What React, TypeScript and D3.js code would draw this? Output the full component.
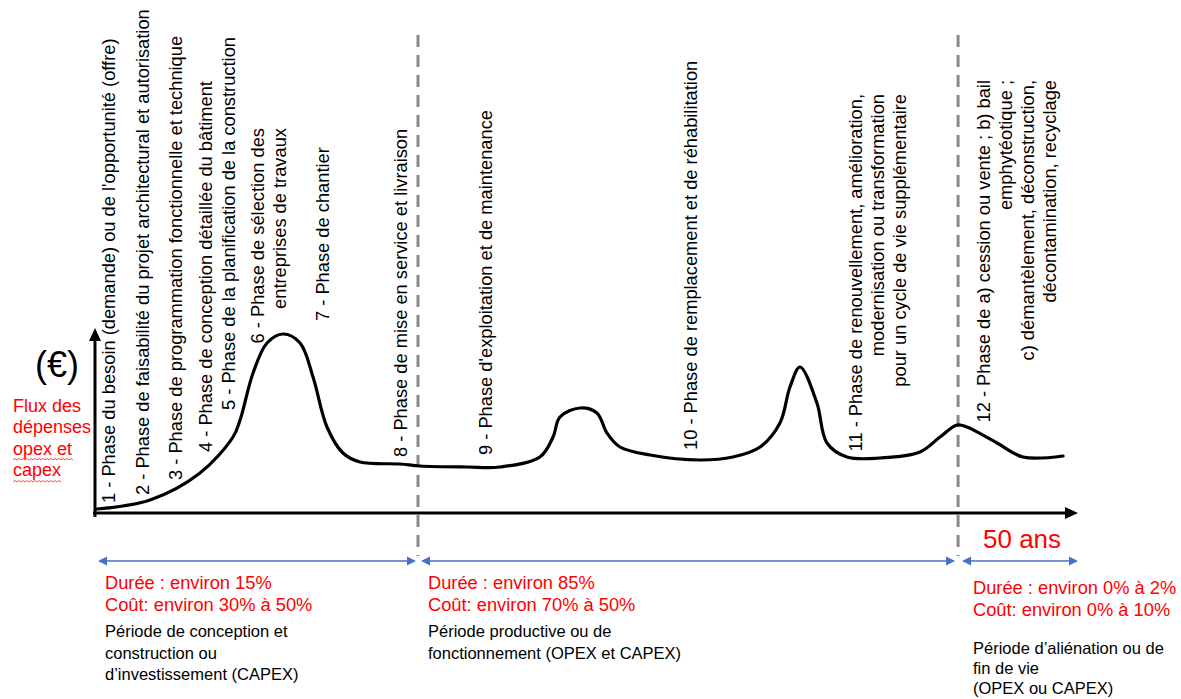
import React from "react";
import * as d3 from "d3";

// ---- data ----
const years = [0.1, 2.8, 5.34, 7.02, 7.38, 8.04, 8.75, 9.56, 10.43, 11.09, 11.8, 12.61, 13.48, 15.51, 16.53, 18.92, 20.6, 22.63, 23.3, 23.65, 24.67, 25.53, 26.04, 26.7, 28.23, 30.77, 32.45, 33.83, 34.84, 35.35, 35.86, 36.72, 37.23, 38.25, 39.93, 41.96, 42.98, 43.85, 44.35, 45.88, 47.2, 49.24];
const spending = [0.15, 0.6, 1.95, 3.75, 4.6, 6.95, 8.45, 8.9, 8.45, 6.75, 4.25, 2.95, 2.5, 2.4, 2.3, 2.25, 2.25, 2.75, 3.75, 4.75, 5.2, 4.95, 3.95, 3.25, 2.85, 2.6, 2.75, 3.25, 4.45, 6.25, 7.25, 5.45, 3.45, 2.75, 2.7, 3.0, 3.75, 4.35, 4.25, 3.45, 2.75, 2.8];
const periodBounds = [0, 16.43, 43.9, 50];
const horizonLabel = "50 ans";
const yUnitLabel = "(€)";
const yTitle = ["Flux des", "dépenses", "opex et", "capex"];

const phaseLabels = [
  ["1 - Phase du besoin (demande) ou de l'opportunité (offre)"],
  ["2 - Phase de faisabilité du projet architectural et autorisation"],
  ["3 - Phase de programmation fonctionnelle et technique"],
  ["4 - Phase de conception détaillée du bâtiment"],
  ["5 - Phase de la planification de la construction"],
  ["6 - Phase de sélection des", "entreprises de travaux"],
  ["7 - Phase de chantier"],
  ["8 - Phase de mise en service et livraison"],
  ["9 - Phase d'exploitation et de maintenance"],
  ["10 - Phase de remplacement et de réhabilitation"],
  ["11 - Phase de renouvellement, amélioration,", "modernisation ou transformation", "pour un cycle de vie supplémentaire"],
  ["12 - Phase de a) cession ou vente ; b) bail", "emphytéotique ;", "c) démantèlement, déconstruction,", "décontamination, recyclage"],
];

const periodRed = [
  ["Durée : environ 15%", "Coût: environ 30% à 50%"],
  ["Durée : environ 85%", "Coût: environ 70% à 50%"],
  ["Durée : environ 0% à 2%", "Coût: environ 0% à 10%"],
];
const periodBlack = [
  ["Période de conception et", "construction ou", "d’investissement (CAPEX)"],
  ["Période productive ou de", "fonctionnement (OPEX et CAPEX)"],
  ["Période d’aliénation ou de", "fin de vie", "(OPEX ou CAPEX)"],
];

// ---- layout (positions, not data) ----
const labelLayout = [
  { x: 115, y: 503, anchor: "start" },
  { x: 149, y: 495, anchor: "start" },
  { x: 182, y: 480, anchor: "start" },
  { x: 212, y: 452, anchor: "start" },
  { x: 235, y: 410, anchor: "start" },
  { x: 264, y: 128, anchor: "end" },
  { x: 329, y: 321, anchor: "start" },
  { x: 407, y: 457, anchor: "start" },
  { x: 492, y: 455, anchor: "start" },
  { x: 697, y: 450, anchor: "start" },
  { x: 862, y: 94, anchor: "end" },
  { x: 990, y: 80, anchor: "end" },
];
const blockLayout = [
  { x: 105, red: 589, black: 637, gap: 21.5 },
  { x: 428, red: 589, black: 637, gap: 21.5 },
  { x: 973, red: 594, black: 654, gap: 20 },
];

const FONT = "'Liberation Sans', Arial, Helvetica, sans-serif";
const RED = "#ff0000";
const BLUE = "#4472c4";

export default function App() {
  const W = 1181, H = 699;
  const x = d3.scaleLinear().domain([0, 50]).range([95, 1078]);
  const y = d3.scaleLinear().domain([0, 10]).range([512, 312]);
  const pts: [number, number][] = years.map((t, i) => [t, spending[i]]);
  const line = d3.line<[number, number]>().x(d => x(d[0])).y(d => y(d[1])).curve(d3.curveCatmullRom.alpha(0.5));

  const axisY = 513;
  const x0 = x(0);
  const xEnd = x(50);
  const yTop = 328;
  const arrowY = 561;

  const wavy = (x1: number, x2: number, yy: number) => {
    let p = `M${x1},${yy}`;
    let up = true;
    for (let xx = x1 + 2; xx <= x2; xx += 2) {
      p += ` L${xx},${yy + (up ? -1.5 : 0)}`;
      up = !up;
    }
    return p;
  };

  const blueArrow = (a: number, b: number, key: string) => {
    const hl = 9, hw = 4.5;
    return (
      <g key={key}>
        <line x1={a + hl - 1} x2={b - hl + 1} y1={arrowY} y2={arrowY} stroke={BLUE} strokeWidth={1.5} />
        <polygon points={`${a},${arrowY} ${a + hl},${arrowY - hw} ${a + hl},${arrowY + hw}`} fill={BLUE} />
        <polygon points={`${b},${arrowY} ${b - hl},${arrowY - hw} ${b - hl},${arrowY + hw}`} fill={BLUE} />
      </g>
    );
  };

  const bounds = periodBounds.map(v => x(v));

  return (
    <svg width={W} height={H} viewBox={`0 0 ${W} ${H}`} style={{ position: "fixed", left: 0, top: 0, background: "#fff" }} fontFamily={FONT}>
      <rect width={W} height={H} fill="#fff" />
      {/* period dividers */}
      {periodBounds.slice(1, 3).map((b, i) => (
        <line key={i} x1={x(b)} x2={x(b)} y1={35} y2={556} stroke="#8a8a8a" strokeWidth={3} strokeDasharray="12 8" />
      ))}
      {/* axes */}
      <line x1={x0} x2={x0} y1={axisY + 4} y2={yTop + 10} stroke="#000" strokeWidth={3} />
      <polygon points={`${x0},${yTop} ${x0 - 6},${yTop + 13} ${x0 + 6},${yTop + 13}`} fill="#000" />
      <line x1={x0 - 2} x2={xEnd - 10} y1={axisY} y2={axisY} stroke="#000" strokeWidth={3} />
      <polygon points={`${xEnd},${axisY} ${xEnd - 13},${axisY - 6} ${xEnd - 13},${axisY + 6}`} fill="#000" />
      {/* curve */}
      <path d={line(pts) || ""} fill="none" stroke="#000" strokeWidth={3.2} strokeLinejoin="round" strokeLinecap="round" />
      {/* rotated phase labels */}
      {phaseLabels.map((lines, i) => {
        const L = labelLayout[i];
        return lines.map((t, j) => (
          <text key={`${i}-${j}`} transform={`translate(${L.x + j * 22},${L.y}) rotate(-90)`} textAnchor={L.anchor} fontSize={18.3} fill="#000">
            {t}
          </text>
        ));
      })}
      {/* y axis labels */}
      <text x={35} y={377} fontSize={36} fill="#000">{yUnitLabel}</text>
      {yTitle.map((t, i) => (
        <text key={i} x={13} y={412 + i * 21.4} fontSize={18} fill={RED}>{t}</text>
      ))}
      <path d={wavy(13, 73, 460)} fill="none" stroke="#ff5050" strokeWidth={1} />
      <path d={wavy(13, 62, 482)} fill="none" stroke="#ff5050" strokeWidth={1} />
      {/* horizon */}
      <text x={983} y={548} fontSize={26} fill={RED}>{horizonLabel}</text>
      {/* blue period arrows */}
      {blueArrow(bounds[0] + 3, bounds[1] - 2, "a1")}
      {blueArrow(bounds[1] + 3, bounds[2] - 3, "a2")}
      {blueArrow(bounds[2] + 4, bounds[3], "a3")}
      {/* period texts */}
      {blockLayout.map((B, i) => (
        <g key={i}>
          {periodRed[i].map((t, j) => (
            <text key={`r${j}`} x={B.x} y={B.red + j * 21.5} fontSize={18.3} fill={RED}>{t}</text>
          ))}
          {periodBlack[i].map((t, j) => (
            <text key={`b${j}`} x={B.x} y={B.black + j * B.gap} fontSize={16.5} fill="#000">{t}</text>
          ))}
        </g>
      ))}
    </svg>
  );
}
